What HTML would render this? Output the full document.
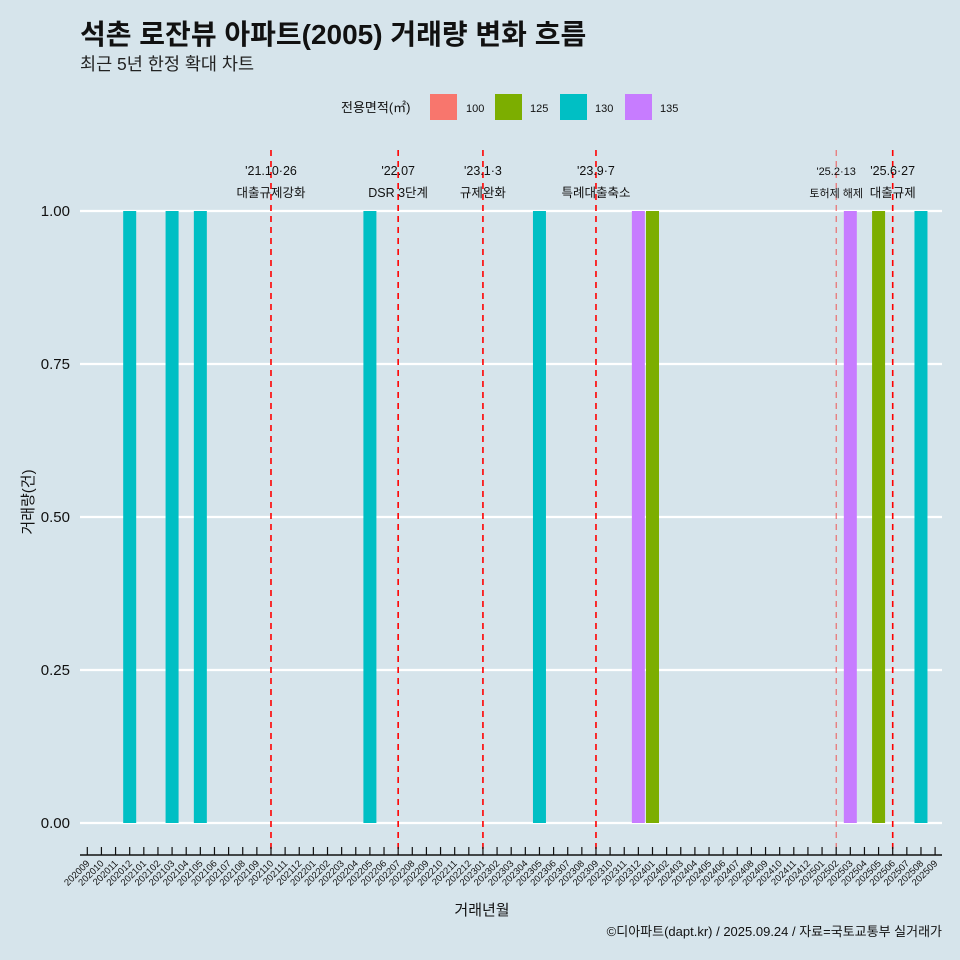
<!DOCTYPE html>
<html><head><meta charset="utf-8">
<style>
html,body{margin:0;padding:0;background:#d6e4eb;}
svg{display:block;font-family:"Liberation Sans","Noto Sans CJK KR",sans-serif;}
</style></head>
<body>
<svg id="chart" width="960" height="960" viewBox="0 0 960 960">
<rect width="960" height="960" fill="#d6e4eb"/>
<text x="80" y="44" font-size="28" font-weight="bold" fill="#111">석촌 로잔뷰 아파트(2005) 거래량 변화 흐름</text>
<text x="80" y="70" font-size="17.5" fill="#222">최근 5년 한정 확대 차트</text>
<g>
<text x="341" y="112" font-size="13" fill="#111">전용면적(㎡)</text>
<rect x="430" y="94" width="27" height="26" fill="#f8766d"/>
<text x="466" y="112" font-size="11" fill="#111">100</text>
<rect x="495" y="94" width="27" height="26" fill="#7cae00"/>
<text x="530" y="112" font-size="11" fill="#111">125</text>
<rect x="560" y="94" width="27" height="26" fill="#00bfc4"/>
<text x="595" y="112" font-size="11" fill="#111">130</text>
<rect x="625" y="94" width="27" height="26" fill="#c77cff"/>
<text x="660" y="112" font-size="11" fill="#111">135</text>
</g>
<g id="plot"></g>
<text x="482" y="915" font-size="15" text-anchor="middle" fill="#111">거래년월</text>
<text transform="translate(33,502) rotate(-90)" font-size="15" text-anchor="middle" fill="#111">거래량(건)</text>
<text x="942" y="936" font-size="13" text-anchor="end" fill="#111">©디아파트(dapt.kr) / 2025.09.24 / 자료=국토교통부 실거래가</text>
</svg>
<script>
const months = [];
for (let y = 2020; y <= 2025; y++) for (let m = 1; m <= 12; m++) {
  const s = y + String(m).padStart(2, '0');
  if (s >= '202009' && s <= '202509') months.push(s);
}
const barMonths = ['202012','202103','202105','202205','202305','202312','202401','202503','202505','202508'];
const barSizes = ['130','130','130','130','130','135','125','135','125','130'];
const barValues = [1,1,1,1,1,1,1,1,1,1];
const yTicks = [0, 0.25, 0.5, 0.75, 1];
const yTickLabels = ['0.00','0.25','0.50','0.75','1.00'];
const eventMonths = ['202110','202207','202301','202309','202502','202506'];
const eventDates = ["'21.10·26","'22.07","'23.1·3","'23.9·7","'25.2·13","'25.6·27"];
const eventNames = ['대출규제강화','DSR 3단계','규제완화','특례대출축소','토허제 해제','대출규제'];

const colors = {'100':'#f8766d','125':'#7cae00','130':'#00bfc4','135':'#c77cff'};
const NS = 'http://www.w3.org/2000/svg';
const g = document.getElementById('plot');
const x0 = 87.3, step = 14.13;
const xScale = m => x0 + months.indexOf(m) * step;
const yScale = v => 823 - v * 612;
function mk(tag, attrs) { const e = document.createElementNS(NS, tag); for (const k in attrs) e.setAttribute(k, attrs[k]); g.appendChild(e); return e; }

yTicks.forEach((t, i) => {
  const gl = mk('line', {x1: 80, x2: 942, y1: yScale(t), y2: yScale(t), stroke: '#fff', 'stroke-width': 2.2});
  
  
  const tl = mk('text', {x: 70, y: yScale(t) + 5, 'font-size': 15, 'text-anchor': 'end', fill: '#111'});
  tl.textContent = yTickLabels[i];
  
  
});

barMonths.forEach((m, i) => {
  const cx = xScale(m);
  const r = mk('rect', {x: cx - 6.5, y: yScale(barValues[i]), width: 13, height: yScale(0) - yScale(barValues[i]), fill: colors[barSizes[i]]});
  
  
});

eventMonths.forEach((m, i) => {
  const cx = xScale(m);
  const thin = m === '202502';
  const l = mk('line', {x1: cx, x2: cx, y1: 150, y2: 855, stroke: thin ? '#ee5555' : '#ff0000', 'stroke-width': thin ? 1 : 1.6, 'stroke-dasharray': '6,5'});
  
  
  const fs = thin ? 11 : 12.5;
  const t1 = mk('text', {x: cx, y: 175, 'font-size': fs, 'text-anchor': 'middle', fill: '#111'});
  t1.textContent = eventDates[i];
  
  
  const t2 = mk('text', {x: cx, y: 197, 'font-size': fs, 'text-anchor': 'middle', fill: '#111'});
  t2.textContent = eventNames[i];
  
  
});

const ax = mk('line', {x1: 80, x2: 942, y1: 855, y2: 855, stroke: '#111', 'stroke-width': 1.5});


months.forEach(m => {
  const cx = xScale(m);
  const tk = mk('line', {x1: cx, x2: cx, y1: 847, y2: 855, stroke: '#111', 'stroke-width': 1.2});
  
  
  const tl = mk('text', {x: cx + 3, y: 864, 'font-size': 9.5, 'text-anchor': 'end', fill: '#111', transform: `rotate(-45 ${cx + 3} 864)`});
  tl.textContent = m;
  
  
});
</script>
</body></html>
